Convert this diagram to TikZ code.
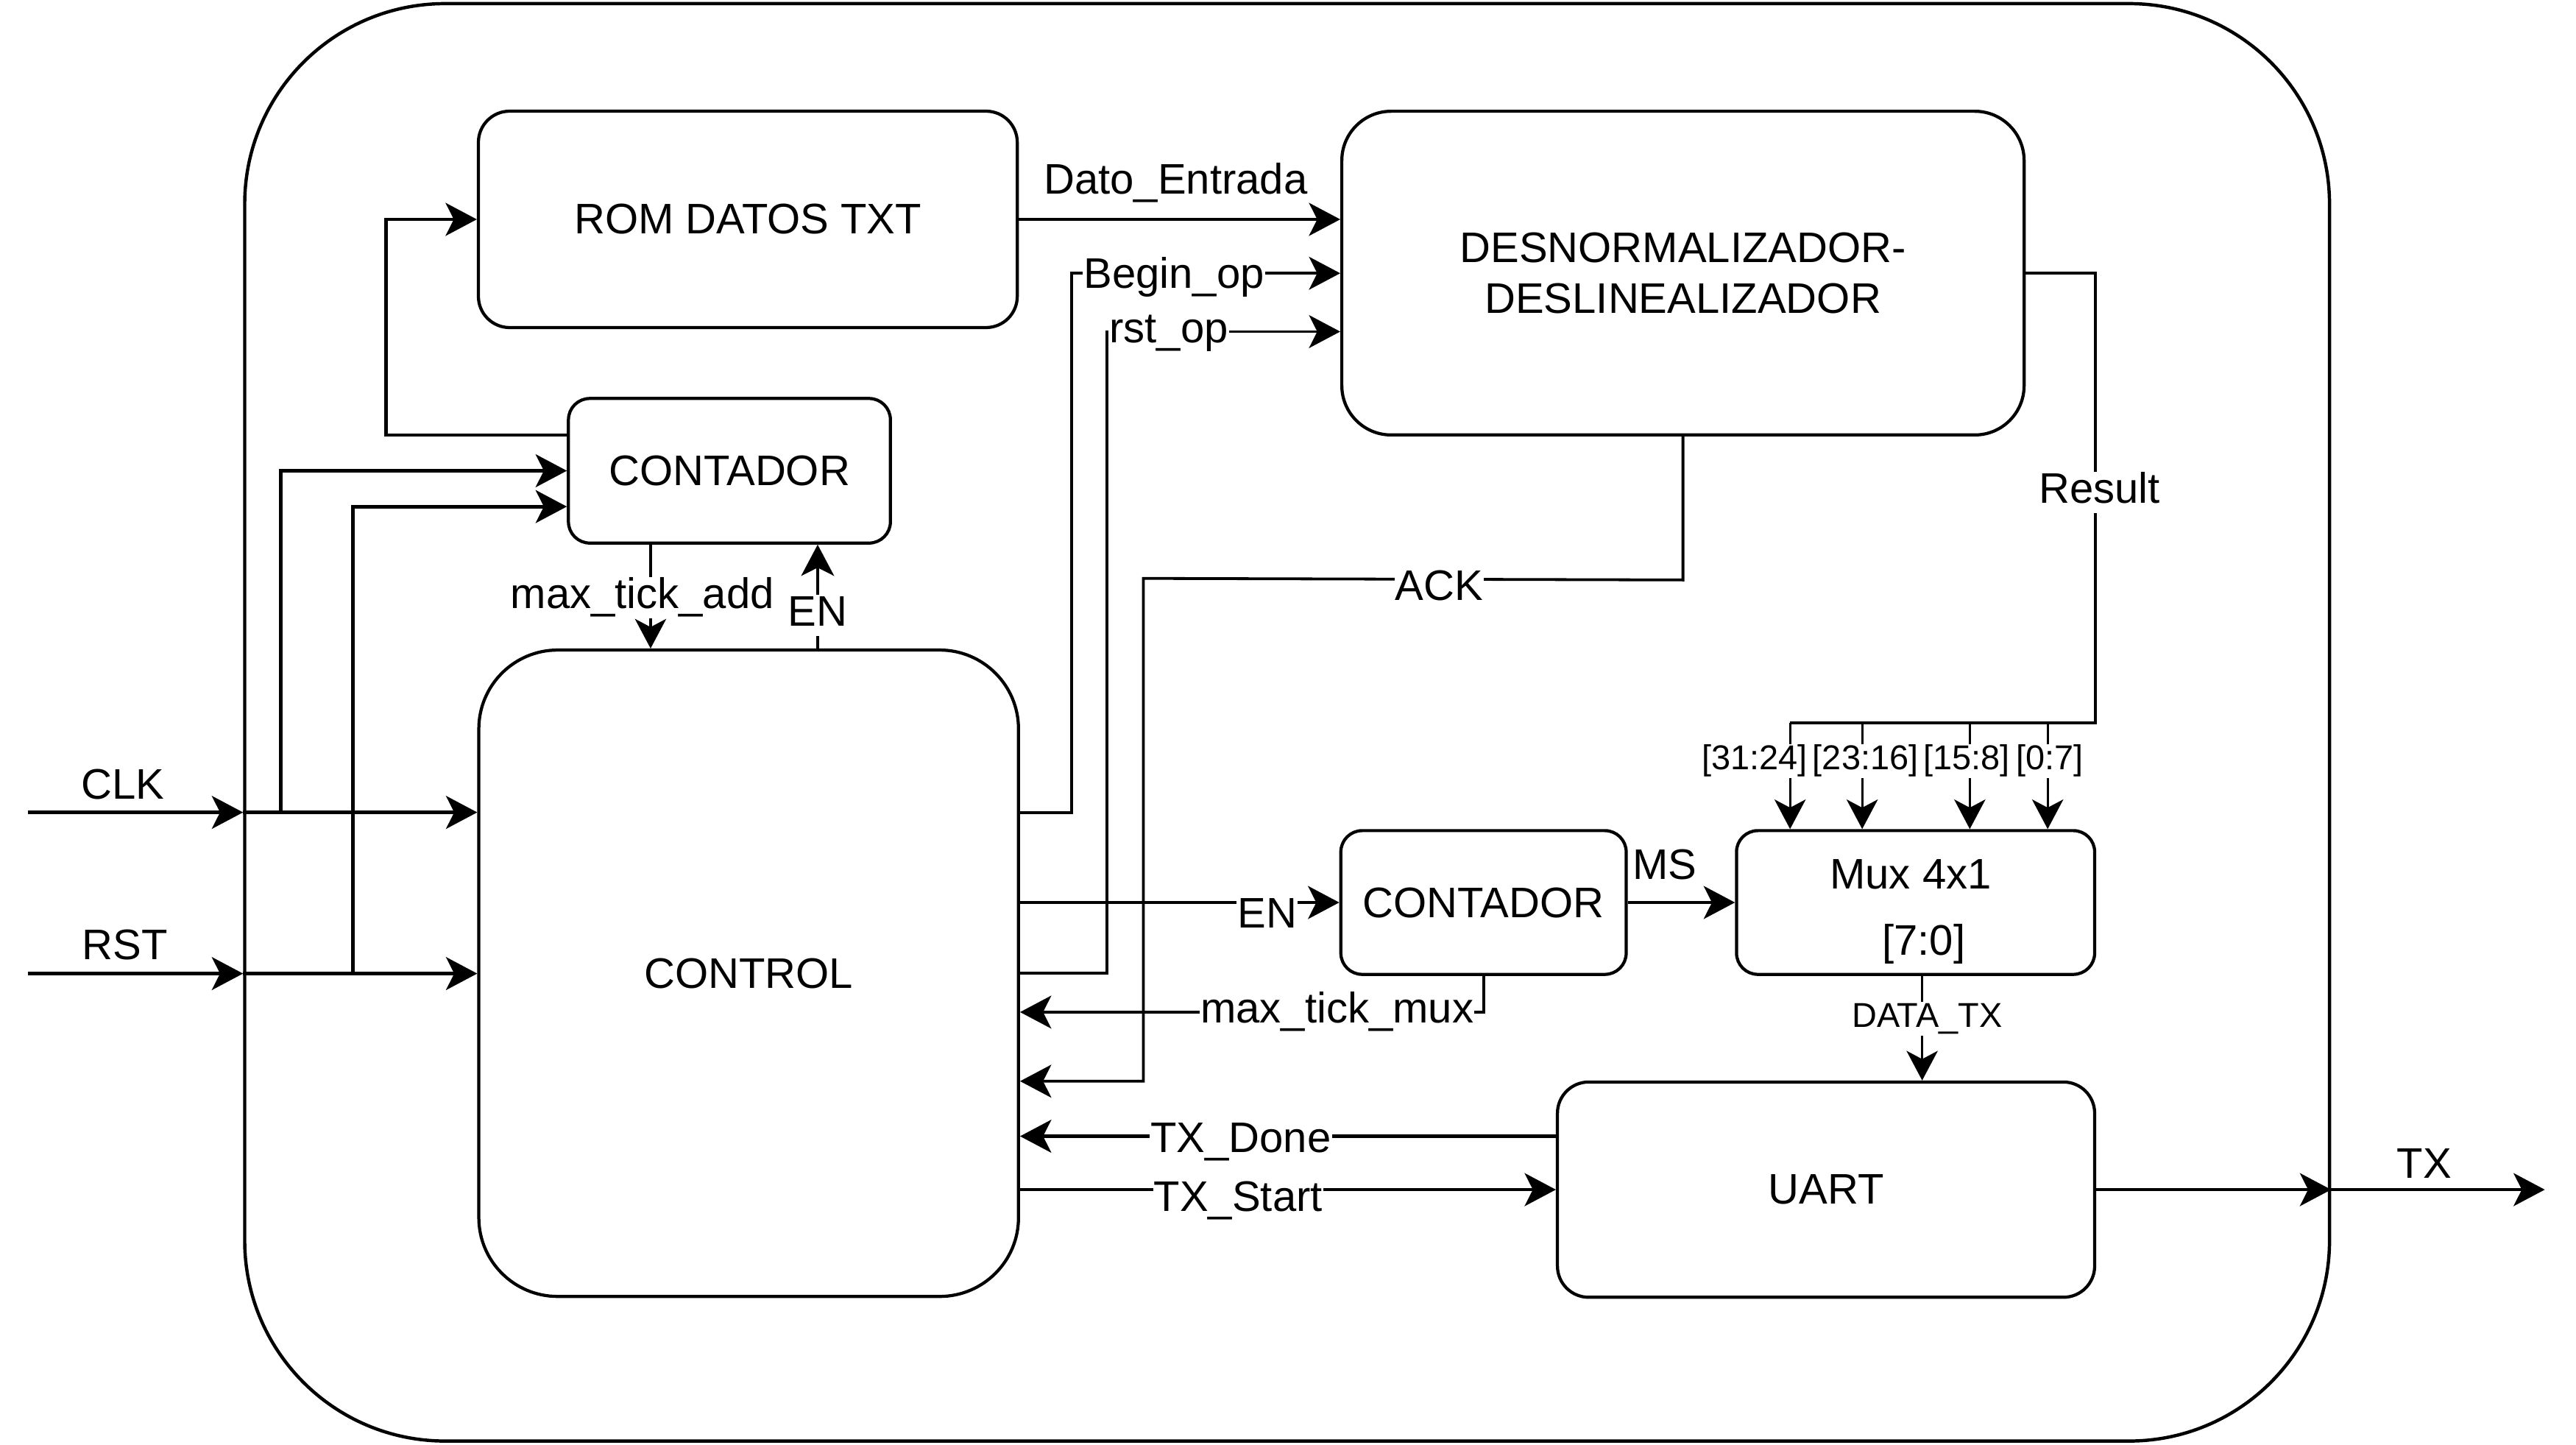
\documentclass[tikz,border=0pt]{standalone}
\usepackage{fontspec}
\setmainfont{Liberation Sans}
\usetikzlibrary{arrows.meta,calc}
\tikzset{
  box/.style={draw, line width=1.9pt, rounded corners=#1, inner sep=0pt, align=center, font=\fontsize{26}{31}\selectfont},
  marr/.style={line width=2.1pt, -{Stealth[length=19pt,width=20pt,inset=5pt]}},
  tarr/.style={line width=1.7pt, -{Stealth[length=19pt,width=20pt,inset=5pt]}},
  sarr/.style={line width=1.4pt, -{Stealth[length=18pt,width=19pt,inset=5pt]}},
  tline/.style={line width=1.7pt},
  lbl/.style={fill=white, inner sep=0.5pt, text height=18.6pt, text depth=5.5pt, font=\fontsize{26}{31}\selectfont},
  slbl/.style={fill=white, inner sep=0.5pt, text height=15pt, text depth=4.4pt, font=\fontsize{21}{25}\selectfont},
  tlbl/.style={inner sep=0pt, anchor=base, font=\fontsize{26}{31}\selectfont},
}
\begin{document}
\begin{tikzpicture}[x=1pt,y=-1pt]
\useasboundingbox (0,0) rectangle (1568,879);
% outer frame
\node[draw, line width=2pt, rounded corners=122pt, minimum width=1269pt, minimum height=874.8pt, inner sep=0pt] (outer) at (783.45,439.6) {};
% blocks
\node[box=19, minimum width=328pt, minimum height=131.7pt] (rom) at (455.2,133.5) {ROM DATOS TXT};
\node[box=30, minimum width=415.3pt, minimum height=197pt] (des) at (1024.4,166.2) {DESNORMALIZADOR-\\DESLINEALIZADOR};
\node[box=13, minimum width=196pt, minimum height=88pt] (cnt1) at (444,286.5) {CONTADOR};
\node[box=48, minimum width=328.5pt, minimum height=393.4pt] (ctrl) at (455.7,592.3) {CONTROL};
\node[box=13, minimum width=173.7pt, minimum height=87.5pt] (cnt2) at (903,549.25) {CONTADOR};
\node[box=13, minimum width=218pt, minimum height=87.5pt] (mux) at (1166,549.25) {};
\node[tlbl] (muxt1) at (1163,541) {Mux 4x1};
\node[tlbl] (muxt2) at (1171,581.3) {[7:0]};
\node[box=19, minimum width=327pt, minimum height=131pt] (uart) at (1111.5,724) {UART};

% CLK / RST inputs
\coordinate (clk) at (17,494.4);
\coordinate (rst) at (17,592.5);
\draw[marr] (clk) -- (clk -| outer.west) node[tlbl,pos=0.44,yshift=8.3pt]{CLK};
\draw[marr] (clk -| outer.west) -- (clk -| ctrl.west);
\draw[marr] (rst) -- (rst -| outer.west) node[tlbl,pos=0.45,yshift=8.7pt]{RST};
\draw[marr] (rst -| outer.west) -- (rst -| ctrl.west);
\coordinate (b1) at (171,494.4);
\coordinate (b2) at (214.9,592.5);
\draw[marr] (b1) |- (cnt1.west);
\draw[marr] (b2) |- ($(cnt1.west)+(0,21.8)$);
% contador -> ROM
\draw[marr] ($(cnt1.west)+(0,-21.8)$) -- ++(-110.1,0) |- (rom.west);
% ROM -> DES
\draw[marr] (rom.east) -- (rom.east -| des.west) node[tlbl,pos=0.488,yshift=15.5pt]{Dato\_Entrada};
% Begin_op
\coordinate (bo) at (652.4,166.3);
\draw[tarr] ($(ctrl.east)+(0,-97.8)$) -| (bo) -- (bo -| des.west) node[lbl,pos=0.381,yshift=-2.5pt]{Begin\_op};
% rst_op
\coordinate (ro) at (673.8,201.8);
\draw[tarr] (ctrl.east) -| (ro) -- (ro -| des.west) node[lbl,pos=0.265]{rst\_op};
% ACK
\coordinate (ak) at (696,658);
\draw[tarr] (des.south) -- ($(des.south)+(0,87.3)$) -- (696,352) node[lbl,pos=0.452,yshift=-6.3pt]{ACK} -- (ak) -- (ak -| ctrl.east);
% Result
\draw[tline] (des.east) -- (1275.5,166.2) -- (1275.5,440) node[lbl,pos=0.488,xshift=2.5pt]{Result} -- (1089.6,440);
\foreach \x [count=\i] in {1089.6,1133.5,1199,1246.4}{
  \coordinate (m\i) at (\x,440);
  \draw[sarr] (m\i) -- (m\i |- mux.north);
}
\node[slbl] (l1) at (1068,463.2) {[31:24]};
\node[slbl] (l2) at (1135.5,463.2) {[23:16]};
\node[slbl] (l3) at (1197,463.2) {[15:8]};
\node[slbl] (l4) at (1247.5,463.2) {[0:7]};
% max_tick_add and EN (top counter)
\coordinate (mta) at ($(cnt1.south)+(-48,0)$);
\draw[sarr] (mta) -- (mta |- ctrl.north) node[lbl,pos=0.51,xshift=-5pt]{max\_tick\_add};
\coordinate (ent) at ($(ctrl.north)+(42,0)$);
\draw[tarr] (ent) -- (ent |- cnt1.south) node[lbl,pos=0.32]{EN};
% EN -> counter 2
\draw[marr] (ctrl.east |- cnt2.west) -- (cnt2.west) node[lbl,pos=0.774,yshift=-8.8pt]{EN};
% MS
\draw[marr] (cnt2.east) -- (mux.west) node[tlbl,pos=0.345,yshift=14pt]{MS};
% max_tick_mux
\coordinate (mtm) at ($(cnt2.south)+(0,22)$);
\draw[tarr] (cnt2.south) -- (mtm) -- (mtm -| ctrl.east) node[lbl,pos=0.316]{max\_tick\_mux};
% DATA_TX
\coordinate (dt) at ($(mux.south)+(4,0)$);
\draw[sarr] (dt) -- (dt |- uart.north) node[slbl,pos=0.41,xshift=3pt]{DATA\_TX};
% TX_Done / TX_Start
\coordinate (td) at ($(uart.west)+(0,-32.5)$);
\draw[marr] (td) -- (td -| ctrl.east) node[lbl,pos=0.588,yshift=-3.3pt]{TX\_Done};
\draw[marr] (ctrl.east |- uart.west) -- (uart.west) node[lbl,pos=0.407,yshift=-6.4pt]{TX\_Start};
% TX output
\coordinate (txend) at (1549,724);
\draw[marr] (uart.east) -- (uart.east -| outer.east);
\draw[marr] (uart.east -| outer.east) -- (txend) node[tlbl,pos=0.435,yshift=7pt]{TX};
\end{tikzpicture}
\end{document}
